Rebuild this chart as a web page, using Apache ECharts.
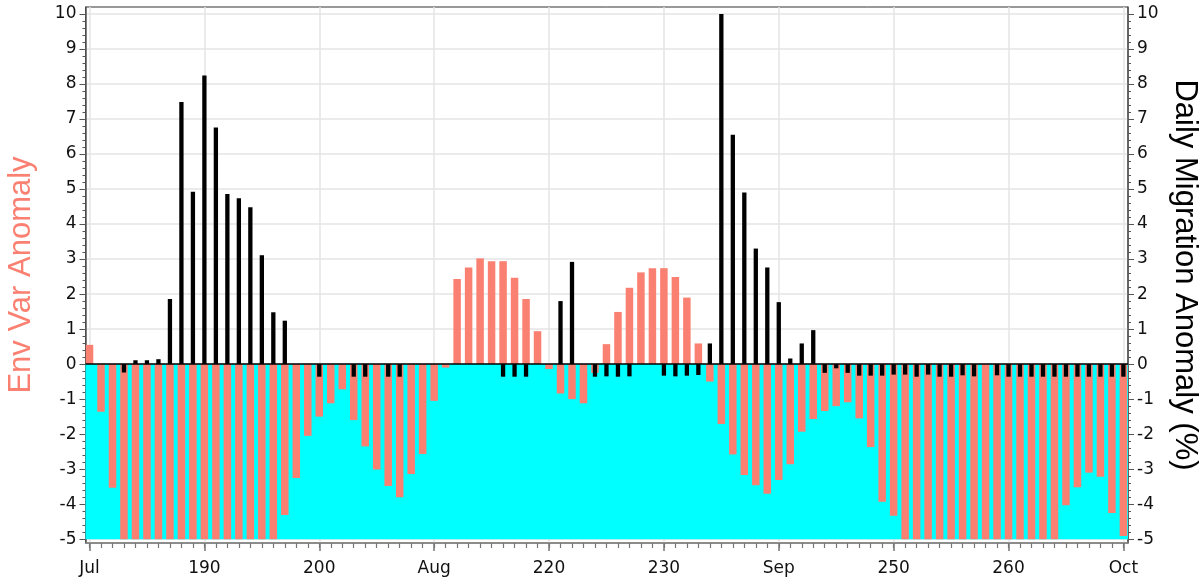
<!DOCTYPE html>
<html>
<head>
<meta charset="utf-8">
<script src="https://cdn.jsdelivr.net/npm/echarts@6/dist/echarts.min.js"></script>
<style>
html,body{margin:0;padding:0;background:#fff;}
#chart{width:1202px;height:585px;}
</style>
</head>
<body>
<div id="chart"></div>
<script>
// Day of year for the first value in each series
const START_DAY = 180;
// Env Var Anomaly (left axis, salmon bars), days 180..270
const ENV_VAR = [
  0.55, -1.36, -3.53, -5, -5, -5, -5, -5, -5, -5,
  -5, -5, -5, -5, -5, -5, -5, -4.31, -3.25, -2.05,
  -1.5, -1.12, -0.72, -1.6, -2.35, -3.01, -3.48, -3.8, -3.14, -2.57,
  -1.05, -0.1, 2.43, 2.76, 3.02, 2.94, 2.94, 2.47, 1.86, 0.94,
  -0.14, -0.84, -1.0, -1.12, -0.25, 0.57, 1.49, 2.18, 2.62, 2.74,
  2.74, 2.49, 1.9, 0.59, -0.5, -1.71, -2.58, -3.17, -3.46, -3.7,
  -3.31, -2.86, -1.93, -1.57, -1.34, -1.2, -1.09, -1.55, -2.37, -3.93,
  -4.33, -5, -5, -5, -5, -5, -5, -5, -5, -5,
  -5, -5, -5, -5, -5, -4.03, -3.52, -3.1, -3.22, -4.25,
  -4.91
];
// Daily Migration Anomaly (%) (right axis, black bars), days 180..270
const MIGRATION = [
  null, null, null, -0.24, 0.11, 0.11, 0.14, 1.86, 7.49, 4.92,
  8.24, 6.76, 4.86, 4.74, 4.48, 3.11, 1.48, 1.24, null, null,
  -0.36, null, null, -0.36, -0.36, null, -0.36, -0.36, null, null,
  null, null, null, null, null, null, -0.36, -0.36, -0.36, null,
  null, 1.8, 2.92, null, -0.36, -0.35, -0.36, -0.35, null, null,
  -0.33, -0.35, -0.33, -0.31, 0.59, 10.0, 6.55, 4.9, 3.3, 2.76,
  1.77, 0.16, 0.59, 0.97, -0.25, -0.12, -0.25, -0.33, -0.33, -0.33,
  -0.3, -0.3, -0.36, -0.3, -0.36, -0.36, -0.32, -0.35, null, -0.32,
  -0.36, -0.36, -0.36, -0.36, -0.36, -0.36, -0.36, -0.36, -0.36, -0.36,
  -0.36
];
// Cyan band limits (left axis units)
const BAND_TOP = 0;
const BAND_BOTTOM = -5;
// X axis ticks
const X_TICKS = [180, 190, 200, 210, 220, 230, 240, 250, 260, 270];
const X_TICK_LABELS = ['Jul', '190', '200', 'Aug', '220', '230', 'Sep', '250', '260', 'Oct'];
// Y axis ticks
const Y_TICKS = [-5, -4, -3, -2, -1, 0, 1, 2, 3, 4, 5, 6, 7, 8, 9, 10];

const XMIN = 179.65, XMAX = 270.4;
const YMIN = -5.11, YMAX = 10.2;

const xDays = [];
for (let d = Math.ceil(XMIN); d <= XMAX; d++) xDays.push(d);
const yMinor = [];
for (let v = -50; v <= 100; v += 2) yMinor.push(v / 10);

const envData = ENV_VAR.map((v, i) => [START_DAY + i, v]);
const migData = MIGRATION.map((v, i) => [START_DAY + i, v]);

const FONT = 'DejaVu Sans';
const gridColor = '#e4e4e4';
const axisColor = '#555';

const chart = echarts.init(document.getElementById('chart'));
chart.setOption({
  animation: false,
  backgroundColor: '#fff',
  grid: { left: 85.5, right: 74, top: 7, bottom: 42, show: true, borderColor: '#333', borderWidth: 1, containLabel: false, outerBoundsMode: 'none' },
  xAxis: [
    {
      type: 'value', min: XMIN, max: XMAX, position: 'bottom',
      axisLine: { show: true, onZero: false, lineStyle: { color: '#888', width: 1.5 } },
      axisTick: { show: true, customValues: X_TICKS, length: 8, lineStyle: { color: '#777', width: 1.5 } },
      axisLabel: {
        show: true, customValues: X_TICKS, margin: 17,
        color: '#111', fontFamily: FONT, fontSize: 17,
        formatter: v => { const k = X_TICKS.indexOf(Math.round(v)); return k >= 0 ? X_TICK_LABELS[k] : ''; }
      },
      splitLine: { show: true, lineStyle: { color: gridColor, width: 1.5 } }
    },
    {
      type: 'value', min: XMIN, max: XMAX, position: 'bottom',
      axisLine: { show: false, onZero: false },
      axisTick: { show: true, customValues: xDays, length: 5, lineStyle: { color: '#777', width: 1.2 } },
      axisLabel: { show: false },
      splitLine: { show: false }
    }
  ],
  yAxis: [
    {
      type: 'value', min: YMIN, max: YMAX, position: 'left',
      name: 'Env Var Anomaly', nameLocation: 'middle', nameGap: 49, nameRotate: 90,
      nameTextStyle: { color: '#FA8072', fontSize: 31, fontFamily: 'Liberation Sans' },
      axisLine: { show: true, onZero: false, lineStyle: { color: axisColor, width: 1.5 } },
      axisTick: { show: true, customValues: Y_TICKS, length: 6, lineStyle: { color: axisColor } },
      axisLabel: { show: true, customValues: Y_TICKS, margin: 9, color: '#111', fontFamily: FONT, fontSize: 17 },
      splitLine: { show: true, lineStyle: { color: gridColor, width: 1.5 } }
    },
    {
      type: 'value', min: YMIN, max: YMAX, position: 'right',
      name: 'Daily Migration Anomaly (%)', nameLocation: 'middle', nameGap: 38, nameRotate: -90,
      nameTextStyle: { color: '#000', fontSize: 31, fontFamily: 'Liberation Sans' },
      axisLine: { show: true, onZero: false, lineStyle: { color: axisColor, width: 1.5 } },
      axisTick: { show: true, customValues: Y_TICKS, length: 6, lineStyle: { color: axisColor } },
      axisLabel: { show: true, customValues: Y_TICKS, margin: 9, color: '#111', fontFamily: FONT, fontSize: 17 },
      splitLine: { show: false }
    },
    {
      type: 'value', min: YMIN, max: YMAX, position: 'left',
      axisLine: { show: false, onZero: false },
      axisTick: { show: true, customValues: yMinor, length: 3, lineStyle: { color: axisColor } },
      axisLabel: { show: false }, splitLine: { show: false }
    },
    {
      type: 'value', min: YMIN, max: YMAX, position: 'right',
      axisLine: { show: false, onZero: false },
      axisTick: { show: true, customValues: yMinor, length: 3, lineStyle: { color: axisColor } },
      axisLabel: { show: false }, splitLine: { show: false }
    }
  ],
  series: [
    {
      type: 'line', xAxisIndex: 0, yAxisIndex: 0, data: [], z: 1, silent: true,
      markArea: {
        silent: true,
        itemStyle: { color: '#00FFFF', opacity: 1 },
        data: [[{ xAxis: XMIN, yAxis: BAND_TOP }, { xAxis: XMAX, yAxis: BAND_BOTTOM }]]
      }
    },
    {
      name: 'Env Var Anomaly', type: 'bar', xAxisIndex: 0, yAxisIndex: 0, data: envData,
      barWidth: 7.5, itemStyle: { color: '#FA8072' }, z: 3
    },
    {
      name: 'Daily Migration Anomaly', type: 'bar', xAxisIndex: 1, yAxisIndex: 1, data: migData,
      barWidth: 4.3, itemStyle: { color: '#000' }, z: 4,
      markLine: {
        silent: true, symbol: 'none', label: { show: false },
        lineStyle: { color: '#000', width: 1.5, type: 'solid' },
        data: [{ yAxis: 0 }]
      }
    }
  ]
});
</script>
</body>
</html>
